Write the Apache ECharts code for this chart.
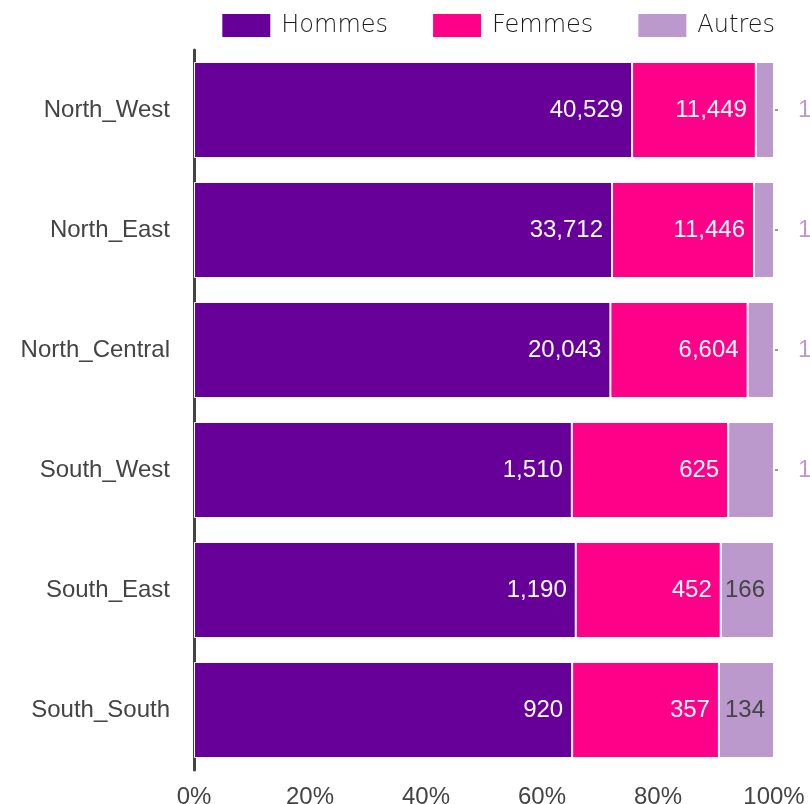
<!DOCTYPE html>
<html>
<head>
<meta charset="utf-8">
<script src="https://cdn.jsdelivr.net/npm/echarts@6/dist/echarts.min.js"></script>
<style>html,body{margin:0;padding:0;background:#fff;}#c{width:810px;height:804px;}</style>
</head>
<body>
<div id="c"></div>
<script>
const categories = ['North_West', 'North_East', 'North_Central', 'South_West', 'South_East', 'South_South'];
const hommes = [40529, 33712, 20043, 1510, 1190, 920];
const femmes = [11449, 11446, 6604, 625, 452, 357];
const autres = [1680, 1615, 1270, 183, 166, 134];
const xTicks = [0, 20, 40, 60, 80, 100];

const seriesNames = ['Hommes', 'Femmes', 'Autres'];
const colors = ['#660099', '#ff0088', '#bb99cc'];
const raw = [hommes, femmes, autres];
const totals = categories.map((c, i) => hommes[i] + femmes[i] + autres[i]);
const fmt = v => v.toLocaleString('en-US');
const FONT = 'Liberation Sans, Arial, sans-serif';

const series = raw.map((arr, s) => ({
  name: seriesNames[s],
  type: 'bar',
  stack: 'total',
  barCategoryGap: '20%',
  itemStyle: { color: colors[s], borderColor: '#fff', borderWidth: 1 },
  data: arr.map((v, i) => {
    const pct = v / totals[i] * 100;
    const d = { value: pct, raw: v };
    if (s === 2) {
      if (pct < 8.5) {
        d.label = {
          position: 'right',
          distance: 1,
          formatter: p => '{d|}{v|' + fmt(p.data.raw) + '}',
          rich: {
            d: { width: 3, height: 2, backgroundColor: '#999' },
            v: { color: '#bb99cc', fontSize: 24, fontFamily: FONT, padding: [0, 0, 0, 20] }
          }
        };
      } else {
        d.label = { position: 'insideRight', color: '#444' };
      }
    }
    return d;
  }),
  label: {
    show: true,
    position: 'insideRight',
    distance: 9,
    color: '#fff',
    fontSize: 24,
    fontFamily: FONT,
    formatter: p => fmt(p.data.raw)
  }
}));

const chart = echarts.init(document.getElementById('c'));
chart.setOption({
  animation: false,
  color: colors,
  legend: {
    data: seriesNames,
    icon: 'rect',
    top: 7,
    right: 30,
    itemWidth: 50,
    itemHeight: 25,
    itemGap: 43,
    textStyle: { fontSize: 24, color: '#1a1a1a', fontFamily: 'DejaVu Sans, sans-serif', fontWeight: 300, padding: [0, 0, 0, 5] }
  },
  grid: { left: 194, right: 36, top: 50, bottom: 34, containLabel: false, outerBoundsMode: 'none' },
  xAxis: {
    type: 'value',
    min: xTicks[0],
    max: xTicks[xTicks.length - 1],
    interval: 20,
    axisLine: { show: false },
    axisTick: { show: false },
    splitLine: { show: false },
    axisLabel: {
      formatter: '{value}%',
      color: '#444',
      fontSize: 24,
      margin: 15,
      fontFamily: FONT
    }
  },
  yAxis: {
    type: 'category',
    data: categories,
    inverse: true,
    axisLine: { show: true, lineStyle: { color: '#444', width: 3 } },
    axisTick: { show: false },
    axisLabel: {
      color: '#444',
      fontSize: 24,
      margin: 24,
      fontFamily: FONT
    }
  },
  series: series
});
</script>
</body>
</html>
